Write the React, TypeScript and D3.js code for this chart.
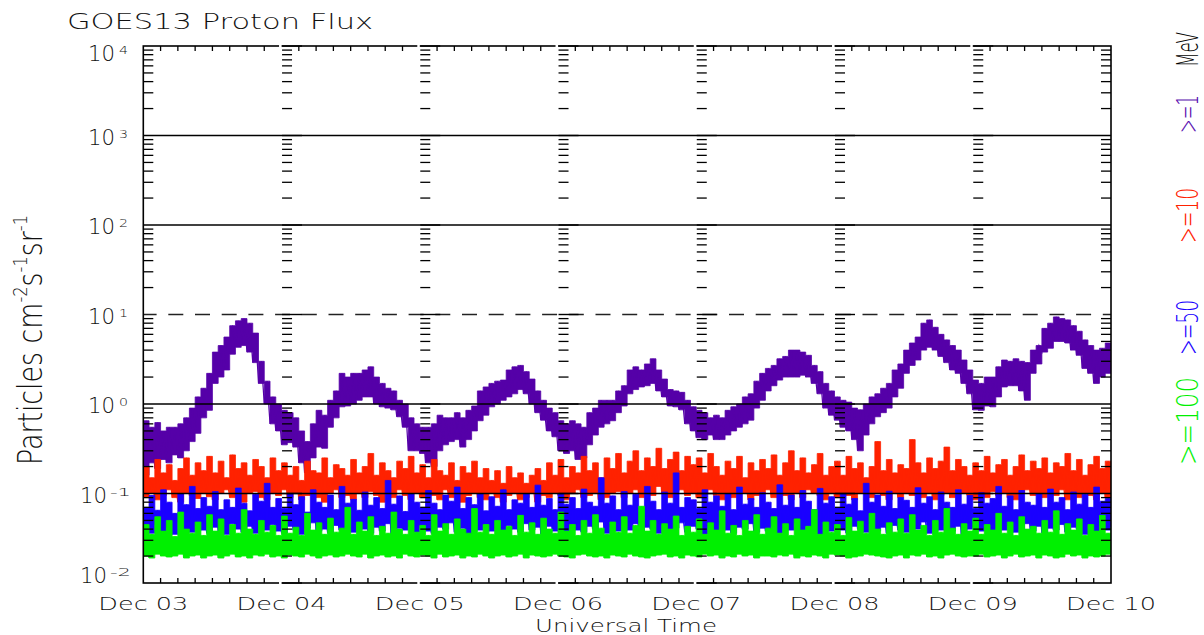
import React from "react";
import * as d3 from "d3";

// ---- time range & axis values ----
const START = new Date(Date.UTC(2013, 11, 3));
const END = new Date(Date.UTC(2013, 11, 10));
const DECADES = [-2, -1, 0, 1, 2, 3, 4];
const SOLID_GRID = [1e-1, 1e0, 1e2, 1e3];
const DASHED_GRID = [1e1];

const TITLE = "GOES13 Proton Flux";
const X_TITLE = "Universal Time";
const LEGEND = [
  { label: "MeV", color: "#000000" },
  { label: ">=1", color: "#5a10b0" },
  { label: ">=10", color: "#ff2200" },
  { label: ">=50", color: "#1a00ff" },
  { label: ">=100", color: "#00f000" },
];

// ---- hourly data (value range within each hour: low / high) ----
const purpleLo = [
  0.16, 0.22, 0.19, 0.24, 0.22, 0.27, 0.25, 0.3, 0.38, 0.47, 0.7, 0.85,
  1.7, 2.0, 2.4, 3.6, 4.3, 4.5, 3.8, 2.9, 1.7, 1.0, 0.6, 0.5,
  0.35, 0.37, 0.33, 0.22, 0.17, 0.25, 0.33, 0.32, 0.55, 0.7, 0.93, 0.95,
  1.0, 1.1, 1.2, 1.2, 1.0, 0.93, 0.9, 0.86, 0.72, 0.55, 0.3, 0.3,
  0.28, 0.22, 0.2, 0.3, 0.35, 0.38, 0.4, 0.33, 0.4, 0.5, 0.65, 0.75,
  0.93, 1.0, 1.1, 1.2, 1.3, 1.45, 1.3, 1.0, 0.8, 0.66, 0.5, 0.43,
  0.3, 0.28, 0.3, 0.24, 0.25, 0.35, 0.45, 0.55, 0.6, 0.65, 0.8, 0.95,
  1.3, 1.45, 1.55, 1.6, 1.7, 1.4, 1.2, 0.95, 0.93, 0.86, 0.6, 0.5,
  0.42, 0.4, 0.45, 0.4, 0.4, 0.45, 0.5, 0.55, 0.6, 0.66, 0.9, 1.1,
  1.4, 1.6, 1.85, 2.0, 2.0, 2.0, 2.1, 2.0, 1.7, 1.3, 0.9, 0.75,
  0.66, 0.55, 0.5, 0.4, 0.3, 0.45, 0.6, 0.72, 0.8, 0.9, 1.2, 1.5,
  2.2, 2.7, 3.1, 4.0, 4.3, 4.0, 3.4, 2.9, 2.4, 2.2, 1.7, 1.3,
  0.86, 0.85, 0.95, 0.93, 1.2, 1.55, 1.6, 1.6, 1.4, 1.1, 2.2, 2.8,
  3.8, 4.2, 5.0, 5.0, 4.8, 4.0, 3.5, 2.5, 2.2, 1.7, 2.0, 2.2,
  2.5,
];
const purpleHi = [
  0.65, 0.55, 0.62, 0.5, 0.55, 0.55, 0.6, 0.7, 0.9, 1.2, 1.5, 2.2,
  3.8, 4.5, 5.6, 7.5, 8.5, 9.0, 8.0, 6.2, 3.0, 1.8, 1.2, 1.0,
  0.85, 0.8, 0.7, 0.5, 0.38, 0.6, 0.85, 0.75, 1.1, 1.4, 2.2, 2.0,
  2.2, 2.2, 2.4, 2.6, 2.0, 1.7, 1.5, 1.4, 1.1, 1.0, 0.7, 0.6,
  0.55, 0.55, 0.6, 0.75, 0.7, 0.7, 0.8, 0.7, 0.85, 0.95, 1.4, 1.55,
  1.7, 1.8, 1.85, 2.4, 2.6, 2.7, 2.3, 1.9, 1.4, 1.1, 0.9, 0.8,
  0.65, 0.6, 0.65, 0.6, 0.55, 0.8, 0.9, 1.1, 1.1, 1.1, 1.4, 1.6,
  2.4, 2.6, 2.4, 2.8, 3.2, 2.4, 1.9, 1.45, 1.4, 1.35, 1.1, 0.93,
  0.85, 0.8, 0.7, 0.75, 0.7, 0.85, 0.93, 1.0, 1.2, 1.3, 1.8, 2.2,
  2.5, 2.7, 3.2, 3.4, 4.0, 4.0, 3.8, 3.5, 2.7, 2.3, 1.7, 1.4,
  1.2, 1.1, 1.05, 0.9, 0.86, 1.0, 1.2, 1.3, 1.5, 1.7, 2.4, 2.8,
  4.0, 4.8, 5.6, 8.0, 8.7, 7.2, 6.0, 5.2, 4.5, 4.0, 3.1, 2.4,
  1.85, 1.7, 2.0, 2.0, 2.6, 3.1, 3.0, 3.2, 3.0, 2.9, 4.0, 4.5,
  7.0, 8.0, 9.4, 9.0, 8.7, 7.5, 6.5, 5.2, 4.5, 4.0, 4.2, 4.8,
  4.0,
];
const redLo = [
  0.09, 0.1, 0.085, 0.095, 0.11, 0.09, 0.08, 0.1, 0.095, 0.088, 0.1, 0.092,
  0.085, 0.1, 0.11, 0.09, 0.095, 0.08, 0.1, 0.105, 0.09, 0.085, 0.1, 0.095,
  0.11, 0.09, 0.1, 0.085, 0.095, 0.1, 0.09, 0.08, 0.1, 0.11, 0.09, 0.095,
  0.085, 0.1, 0.09, 0.105, 0.095, 0.08, 0.1, 0.09, 0.11, 0.095, 0.085, 0.1,
  0.09, 0.1, 0.095, 0.085, 0.11, 0.09, 0.1, 0.08, 0.095, 0.1, 0.09, 0.085,
  0.1, 0.09, 0.08, 0.095, 0.1, 0.085, 0.09, 0.1, 0.08, 0.095, 0.09, 0.1,
  0.095, 0.085, 0.1, 0.11, 0.09, 0.095, 0.1, 0.085, 0.09, 0.1, 0.105, 0.09,
  0.1, 0.11, 0.09, 0.1, 0.095, 0.12, 0.1, 0.09, 0.105, 0.11, 0.095, 0.1,
  0.09, 0.1, 0.11, 0.095, 0.085, 0.1, 0.09, 0.105, 0.1, 0.085, 0.095, 0.1,
  0.11, 0.09, 0.1, 0.095, 0.085, 0.1, 0.09, 0.11, 0.1, 0.095, 0.085, 0.1,
  0.09, 0.1, 0.095, 0.085, 0.1, 0.11, 0.09, 0.1, 0.095, 0.085, 0.1, 0.09,
  0.1, 0.095, 0.11, 0.09, 0.1, 0.085, 0.095, 0.1, 0.09, 0.11, 0.1, 0.095,
  0.085, 0.1, 0.09, 0.105, 0.095, 0.1, 0.09, 0.085, 0.1, 0.11, 0.095, 0.1,
  0.09, 0.1, 0.095, 0.11, 0.085, 0.1, 0.09, 0.1, 0.095, 0.085, 0.1, 0.09,
  0.1,
];
const redHi = [
  0.2, 0.15, 0.24, 0.17, 0.21, 0.14, 0.19, 0.25, 0.16, 0.22, 0.18, 0.26,
  0.17, 0.23, 0.15, 0.27, 0.19, 0.22, 0.16, 0.24, 0.2, 0.15, 0.25, 0.18,
  0.22, 0.16, 0.2, 0.14, 0.23, 0.18, 0.17, 0.25, 0.15, 0.21, 0.19, 0.16,
  0.24, 0.17, 0.2, 0.28, 0.16, 0.22, 0.18, 0.15, 0.23, 0.19, 0.26, 0.17,
  0.21, 0.15, 0.24, 0.18, 0.16, 0.22, 0.14, 0.2, 0.17, 0.23, 0.15, 0.19,
  0.14, 0.18, 0.13, 0.2, 0.15, 0.17, 0.13, 0.16, 0.19, 0.14, 0.22, 0.16,
  0.24, 0.15, 0.2, 0.17, 0.26, 0.18, 0.22, 0.15, 0.25, 0.19, 0.28, 0.17,
  0.23, 0.3, 0.18, 0.25, 0.2, 0.32, 0.19, 0.24, 0.29, 0.18, 0.26, 0.21,
  0.25, 0.17, 0.28, 0.2, 0.16, 0.23, 0.19, 0.26, 0.15, 0.22, 0.18, 0.24,
  0.19, 0.27, 0.16, 0.22, 0.3, 0.18, 0.25, 0.17, 0.21, 0.28, 0.16, 0.2,
  0.23, 0.16, 0.26, 0.19, 0.22, 0.15, 0.2, 0.38, 0.18, 0.24, 0.17, 0.21,
  0.19, 0.4, 0.22, 0.17, 0.25, 0.19, 0.23, 0.33, 0.18, 0.24, 0.2, 0.16,
  0.22, 0.18, 0.26, 0.17, 0.21, 0.24, 0.16, 0.2, 0.27, 0.18, 0.23, 0.19,
  0.25, 0.17, 0.22, 0.2, 0.28, 0.18, 0.24, 0.16, 0.21, 0.26, 0.19, 0.23,
  0.2,
];
const blueLo = [
  0.04, 0.036, 0.045, 0.038, 0.042, 0.035, 0.048, 0.04, 0.037, 0.044, 0.039, 0.036,
  0.042, 0.038, 0.035, 0.046, 0.04, 0.037, 0.043, 0.036, 0.041, 0.039, 0.045, 0.038,
  0.036, 0.043, 0.039, 0.035, 0.041, 0.047, 0.038, 0.04, 0.036, 0.044, 0.039, 0.042,
  0.037, 0.045, 0.04, 0.036, 0.042, 0.038, 0.046, 0.035, 0.041, 0.039, 0.043, 0.037,
  0.044, 0.038, 0.036, 0.042, 0.04, 0.047, 0.037, 0.041, 0.035, 0.043, 0.039, 0.045,
  0.038, 0.041, 0.036, 0.044, 0.04, 0.037, 0.046, 0.039, 0.042, 0.035, 0.043, 0.038,
  0.041, 0.036, 0.045, 0.039, 0.037, 0.043, 0.04, 0.048, 0.036, 0.042, 0.038, 0.044,
  0.039, 0.046, 0.037, 0.042, 0.04, 0.036, 0.044, 0.038, 0.041, 0.047, 0.037, 0.043,
  0.04, 0.035, 0.043, 0.038, 0.045, 0.039, 0.036, 0.042, 0.04, 0.046, 0.037, 0.041,
  0.038, 0.044, 0.036, 0.041, 0.039, 0.047, 0.037, 0.043, 0.04, 0.035, 0.042, 0.038,
  0.045, 0.039, 0.036, 0.043, 0.04, 0.037, 0.046, 0.038, 0.042, 0.036, 0.044, 0.039,
  0.037, 0.042, 0.04, 0.048, 0.036, 0.041, 0.039, 0.044, 0.038, 0.043, 0.035, 0.04,
  0.042, 0.038, 0.045, 0.036, 0.041, 0.039, 0.044, 0.037, 0.04, 0.046, 0.038, 0.043,
  0.036, 0.041, 0.039, 0.045, 0.037, 0.042, 0.04, 0.035, 0.043, 0.038, 0.044, 0.039,
  0.041,
];
const blueHi = [
  0.07, 0.095, 0.065, 0.11, 0.08, 0.06, 0.1, 0.075, 0.12, 0.068, 0.09, 0.072,
  0.105, 0.066, 0.085, 0.07, 0.115, 0.078, 0.064, 0.098, 0.082, 0.13, 0.07, 0.088,
  0.068, 0.1, 0.075, 0.092, 0.062, 0.11, 0.08, 0.07, 0.096, 0.066, 0.12, 0.078,
  0.086, 0.065, 0.104, 0.074, 0.09, 0.068, 0.14, 0.076, 0.094, 0.063, 0.1, 0.08,
  0.07, 0.108, 0.078, 0.066, 0.096, 0.082, 0.118, 0.068, 0.09, 0.075, 0.1, 0.064,
  0.092, 0.072, 0.11, 0.066, 0.085, 0.078, 0.1, 0.07, 0.124, 0.074, 0.088, 0.066,
  0.1, 0.076, 0.09, 0.068, 0.112, 0.08, 0.072, 0.15, 0.078, 0.094, 0.066, 0.105,
  0.074, 0.098, 0.07, 0.12, 0.082, 0.066, 0.104, 0.078, 0.17, 0.07, 0.09, 0.085,
  0.068, 0.11, 0.08, 0.094, 0.072, 0.1, 0.066, 0.118, 0.076, 0.088, 0.07, 0.102,
  0.08, 0.068, 0.125, 0.074, 0.096, 0.07, 0.108, 0.082, 0.066, 0.114, 0.078, 0.092,
  0.07, 0.1, 0.076, 0.088, 0.064, 0.13, 0.08, 0.096, 0.072, 0.106, 0.068, 0.09,
  0.084, 0.07, 0.116, 0.078, 0.092, 0.066, 0.104, 0.08, 0.07, 0.11, 0.076, 0.095,
  0.068, 0.102, 0.078, 0.088, 0.12, 0.072, 0.094, 0.066, 0.108, 0.08, 0.074, 0.1,
  0.07, 0.112, 0.08, 0.09, 0.066, 0.104, 0.076, 0.098, 0.07, 0.118, 0.082, 0.088,
  0.075,
];
const greenLo = [
  0.02, 0.019, 0.021, 0.02, 0.0195, 0.02, 0.021, 0.019, 0.02, 0.0205, 0.019, 0.02,
  0.0205, 0.019, 0.02, 0.021, 0.0195, 0.02, 0.019, 0.0205, 0.02, 0.021, 0.0195, 0.02,
  0.019, 0.0205, 0.02, 0.0195, 0.021, 0.02, 0.019, 0.02, 0.0205, 0.0195, 0.02, 0.021,
  0.02, 0.0195, 0.021, 0.019, 0.02, 0.0205, 0.0195, 0.02, 0.019, 0.021, 0.02, 0.0195,
  0.0205, 0.02, 0.019, 0.021, 0.0195, 0.02, 0.0205, 0.019, 0.02, 0.0195, 0.021, 0.02,
  0.019, 0.02, 0.0205, 0.0195, 0.02, 0.021, 0.019, 0.0205, 0.02, 0.0195, 0.02, 0.021,
  0.02, 0.0195, 0.019, 0.0205, 0.021, 0.02, 0.0195, 0.02, 0.019, 0.0205, 0.02, 0.0195,
  0.021, 0.02, 0.0195, 0.019, 0.02, 0.0205, 0.021, 0.0195, 0.02, 0.019, 0.0205, 0.02,
  0.0195, 0.021, 0.02, 0.0205, 0.019, 0.02, 0.0195, 0.021, 0.02, 0.0205, 0.019, 0.02,
  0.02, 0.0195, 0.0205, 0.02, 0.021, 0.019, 0.02, 0.0195, 0.0205, 0.02, 0.019, 0.021,
  0.0205, 0.02, 0.019, 0.0195, 0.02, 0.021, 0.0205, 0.02, 0.0195, 0.019, 0.02, 0.0205,
  0.019, 0.0205, 0.02, 0.021, 0.0195, 0.02, 0.019, 0.0205, 0.021, 0.02, 0.0195, 0.02,
  0.02, 0.021, 0.0195, 0.02, 0.0205, 0.019, 0.02, 0.021, 0.0195, 0.02, 0.0205, 0.019,
  0.0205, 0.02, 0.019, 0.0195, 0.021, 0.02, 0.0205, 0.019, 0.02, 0.0195, 0.02, 0.021,
  0.02,
];
const greenHi = [
  0.045, 0.035, 0.055, 0.038, 0.05, 0.033, 0.062, 0.04, 0.036, 0.048, 0.034, 0.058,
  0.038, 0.052, 0.034, 0.045, 0.036, 0.066, 0.04, 0.035, 0.05, 0.037, 0.044, 0.034,
  0.056, 0.036, 0.042, 0.034, 0.06, 0.039, 0.047, 0.035, 0.053, 0.037, 0.041, 0.07,
  0.035, 0.048, 0.038, 0.055, 0.034, 0.043, 0.036, 0.062, 0.04, 0.035, 0.05, 0.037,
  0.044, 0.034, 0.058, 0.038, 0.046, 0.035, 0.052, 0.04, 0.036, 0.068, 0.037, 0.045,
  0.035, 0.05, 0.039, 0.043, 0.034, 0.057, 0.037, 0.047, 0.035, 0.053, 0.04, 0.036,
  0.062, 0.038, 0.045, 0.034, 0.05, 0.036, 0.058, 0.041, 0.035, 0.048, 0.037, 0.055,
  0.036, 0.044, 0.072, 0.038, 0.05, 0.035, 0.046, 0.04, 0.056, 0.034, 0.043, 0.037,
  0.052, 0.035, 0.047, 0.039, 0.064, 0.036, 0.044, 0.034, 0.05, 0.038, 0.058, 0.035,
  0.041, 0.055, 0.036, 0.046, 0.034, 0.052, 0.039, 0.043, 0.066, 0.035, 0.048, 0.037,
  0.045, 0.034, 0.054, 0.038, 0.049, 0.036, 0.06, 0.04, 0.035, 0.047, 0.037, 0.052,
  0.036, 0.058, 0.039, 0.044, 0.034, 0.05, 0.037, 0.068, 0.041, 0.035, 0.046, 0.038,
  0.053, 0.035, 0.045, 0.039, 0.06, 0.036, 0.048, 0.034, 0.055, 0.04, 0.043, 0.036,
  0.05, 0.037, 0.064, 0.035, 0.046, 0.039, 0.052, 0.034, 0.045, 0.038, 0.057, 0.036,
  0.042,
];

const SERIES = [
  { lo: purpleLo, hi: purpleHi, color: "#5500a8" },
  { lo: redLo, hi: redHi, color: "#ff2200" },
  { lo: blueLo, hi: blueHi, color: "#1a00ff" },
  { lo: greenLo, hi: greenHi, color: "#00f000" },
];

const FONT = "'DejaVu Sans', sans-serif";

export default function App() {
  const W = 1204;
  const H = 635;
  const L = 143.3, R = 1111, T = 46, B = 583;
  const x = d3.scaleUtc().domain([START, END]).range([L, R]);
  const y = d3.scaleLog().domain([1e-2, 1e4]).range([B, T]);
  const HOUR = 3600 * 1000;

  type Row = { t: Date; lo: number; hi: number };
  const rows = (lo: number[], hi: number[]): Row[] => {
    const n = Math.min(lo.length, hi.length);
    const out: Row[] = [];
    for (let i = 0; i < n; i++) out.push({ t: new Date(START.getTime() + i * HOUR), lo: lo[i], hi: hi[i] });
    return out;
  };
  const band = d3
    .area<Row>()
    .curve(d3.curveStepAfter)
    .x((d) => x(d.t))
    .y0((d) => y(d.lo))
    .y1((d) => y(d.hi));
  const zig = (r: Row[]) => {
    const pts: [Date, number][] = [];
    r.forEach((d) => {
      pts.push([d.t, d.lo]);
      pts.push([new Date(d.t.getTime() + HOUR / 2), d.hi]);
    });
    return d3
      .line<[Date, number]>()
      .x((d) => x(d[0]))
      .y((d) => y(d[1]))(pts) as string;
  };

  const minorVals: number[] = [];
  DECADES.slice(0, -1).forEach((k) => {
    for (let n = 2; n <= 9; n++) minorVals.push(n * Math.pow(10, k));
  });
  const days = d3.utcDay.range(d3.utcDay.offset(START, 1), END);
  const allDays = d3.utcDay.range(START, d3.utcDay.offset(END, 1));
  const hours3 = d3.utcHour
    .every(3)!
    .range(START, END)
    .filter((d) => d.getUTCHours() !== 0);
  const fmt = d3.utcFormat("%b %d");

  const ylabelPos = (k: number) => {
    if (k === 4) return 61;
    if (k === -2) return 583;
    return y(Math.pow(10, k)) + 9;
  };

  return (
    <svg
      width={W}
      height={H}
      style={{ position: "absolute", left: 0, top: 0, background: "#fff" }}
      fontFamily={FONT}
      fontWeight={200}
    >
      <rect x={0} y={0} width={W} height={H} fill="#fff" />
      <defs>
        <clipPath id="plot">
          <rect x={L} y={T} width={R - L} height={B - T} />
        </clipPath>
      </defs>

      {/* title */}
      <text x={67} y={29} fontSize={22} textLength={306} lengthAdjust="spacingAndGlyphs" fill="#111">
        {TITLE}
      </text>

      {/* data */}
      <g clipPath="url(#plot)">
        {SERIES.map((s, i) => {
          const r = rows(s.lo, s.hi);
          return (
            <g key={i}>
              <path d={band(r) as string} fill={s.color} stroke={s.color} strokeWidth={0.8} />
              <path d={zig(r)} fill="none" stroke={s.color} strokeWidth={1.2} />
            </g>
          );
        })}
      </g>

      {/* grid lines */}
      {SOLID_GRID.map((v) => (
        <line key={v} x1={L} x2={R} y1={y(v)} y2={y(v)} stroke="#000" strokeWidth={1.4} />
      ))}
      {DASHED_GRID.map((v) => (
        <line key={v} x1={L} x2={R} y1={y(v)} y2={y(v)} stroke="#222" strokeWidth={1.4} strokeDasharray="15 11.7" strokeDashoffset={1.7} />
      ))}

      {/* left / right axis minor ticks */}
      {minorVals.map((v) => (
        <g key={"m" + v}>
          <line x1={L} x2={L + 10} y1={y(v)} y2={y(v)} stroke="#000" strokeWidth={1.3} />
          <line x1={R} x2={R - 10} y1={y(v)} y2={y(v)} stroke="#000" strokeWidth={1.3} />
        </g>
      ))}

      {/* day ladders */}
      {days.map((d) => (
        <g key={"d" + d.getTime()}>
          {minorVals.map((v) => (
            <line key={v} x1={x(d) + 0.5} x2={x(d) + 10.5} y1={y(v)} y2={y(v)} stroke="#000" strokeWidth={1.3} />
          ))}
          {DECADES.map((k) => (
            <line key={"M" + k} x1={x(d) + 0.5} x2={x(d) + 20.5} y1={y(Math.pow(10, k))} y2={y(Math.pow(10, k))} stroke="#000" strokeWidth={1.4} />
          ))}
        </g>
      ))}

      {/* 3-hour ticks */}
      {hours3.map((d) => (
        <g key={"h" + d.getTime()}>
          <line x1={x(d)} x2={x(d)} y1={T} y2={T + 5} stroke="#000" strokeWidth={1.3} />
          <line x1={x(d)} x2={x(d)} y1={B} y2={B - 5} stroke="#000" strokeWidth={1.3} />
        </g>
      ))}

      {/* frame */}
      <rect x={L} y={T} width={R - L} height={B - T} fill="none" stroke="#000" strokeWidth={1.6} />
      {days.map((d) => (
        <g key={"gap" + d.getTime()}>
          <rect x={x(d) - 2.5} y={T - 2} width={2.5} height={4} fill="#fff" />
          <rect x={x(d) - 2.5} y={B - 2} width={2.5} height={4} fill="#fff" />
        </g>
      ))}

      {/* y tick labels */}
      {DECADES.map((k) => {
        const by = ylabelPos(k);
        const neg = k < 0;
        const baseEnd = neg ? 107 : 115;
        const expStart = neg ? 110 : 119;
        const exp = neg ? "-" + String(-k) : String(k);
        return (
          <g key={"yl" + k} fill="#111">
            <text x={baseEnd} y={by} fontSize={22} textAnchor="end" textLength={27} lengthAdjust="spacingAndGlyphs">
              10
            </text>
            <text x={expStart} y={by - 7} fontSize={11} textLength={neg ? 21 : 9} lengthAdjust="spacingAndGlyphs">
              {exp}
            </text>
          </g>
        );
      })}

      {/* x tick labels */}
      {allDays.map((d) => (
        <text key={"xl" + d.getTime()} x={x(d)} y={610} fontSize={18} textAnchor="middle" textLength={90} lengthAdjust="spacingAndGlyphs" fill="#111">
          {fmt(d)}
        </text>
      ))}
      <text x={626} y={632} fontSize={18} textAnchor="middle" textLength={182} lengthAdjust="spacingAndGlyphs" fill="#111">
        {X_TITLE}
      </text>

      {/* y title */}
      <text
        transform="translate(42,340) rotate(-90)"
        fontSize={33}
        textAnchor="middle"
        textLength={250}
        lengthAdjust="spacingAndGlyphs"
        fill="#111"
      >
        Particles cm
        <tspan fontSize={20} dy={-15}>-2</tspan>
        <tspan dy={15}>s</tspan>
        <tspan fontSize={20} dy={-15}>-1</tspan>
        <tspan dy={15}>sr</tspan>
        <tspan fontSize={20} dy={-15}>-1</tspan>
      </text>

      {/* right legend */}
      {LEGEND.map((l, i) => {
        const cy = [49.5, 114, 215.5, 327.5, 421][i];
        const len = [35, 38, 55, 55, 88][i];
        return (
          <text
            key={l.label}
            transform={`translate(1198,${cy}) rotate(-90)`}
            fontSize={31}
            textAnchor="middle"
            textLength={len}
            lengthAdjust="spacingAndGlyphs"
            fill={l.color}
          >
            {l.label}
          </text>
        );
      })}
    </svg>
  );
}
